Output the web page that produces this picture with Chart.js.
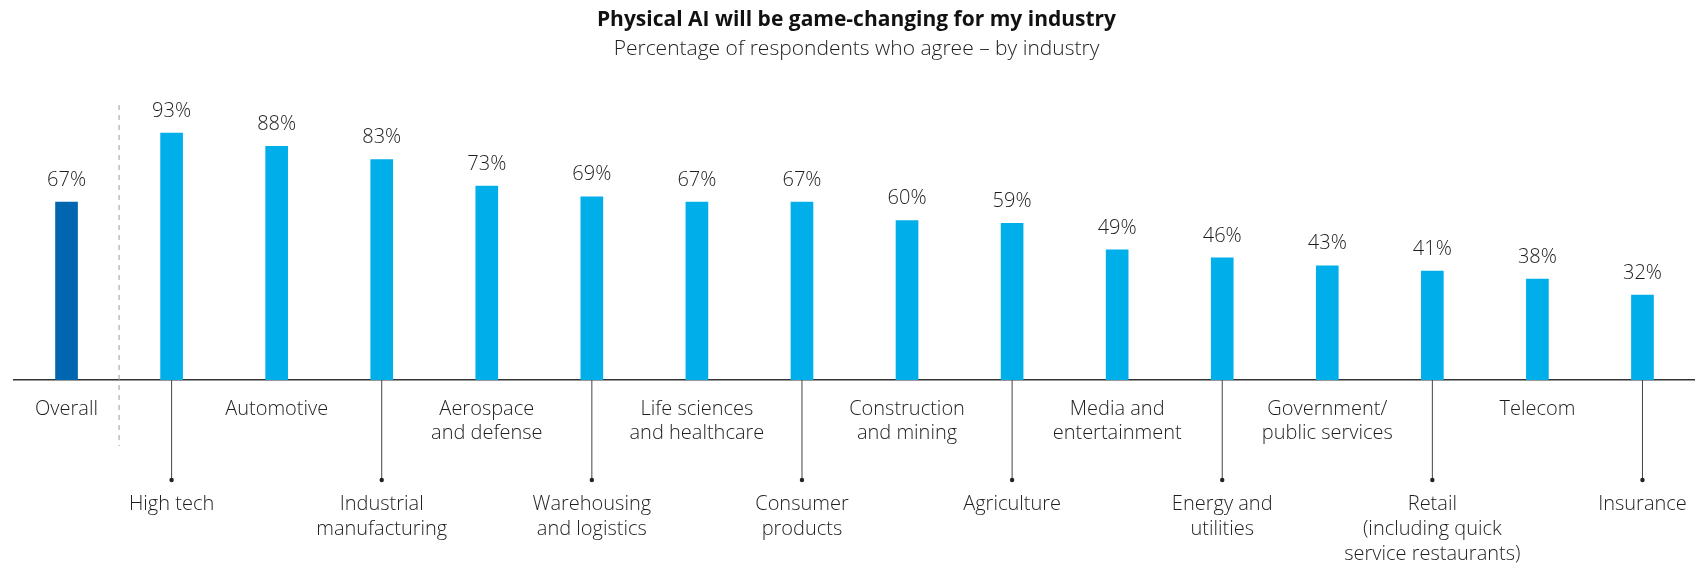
<!DOCTYPE html>
<html>
<head>
<meta charset="utf-8">
<script src="https://cdn.jsdelivr.net/npm/chart.js@4/dist/chart.umd.min.js"></script>
<style>
  html, body { margin: 0; padding: 0; background: #fff; }
  #wrap { width: 1695px; height: 566px; }
</style>
</head>
<body>
<div id="wrap"><canvas id="chart" width="1695" height="566"></canvas></div>
<script>
// data
const categories = [
  "Overall",
  "High tech",
  "Automotive",
  ["Industrial", "manufacturing"],
  ["Aerospace", "and defense"],
  ["Warehousing", "and logistics"],
  ["Life sciences", "and healthcare"],
  ["Consumer", "products"],
  ["Construction", "and mining"],
  "Agriculture",
  ["Media and", "entertainment"],
  ["Energy and", "utilities"],
  ["Government/", "public services"],
  ["Retail", "(including quick", "service restaurants)"],
  "Telecom",
  "Insurance",
];
const values = [67, 93, 88, 83, 73, 69, 67, 67, 60, 59, 49, 46, 43, 41, 38, 32];

const overallColor = "#0066B0";
const industryColor = "#00AEEA";
const textColor = "#1e1e1e";
const fontFamily = "'Open Sans', 'Noto Sans', sans-serif";

// 標籤、數值、引線
const labelPlugin = {
  id: "labelPlugin",
  afterDraw: (chart) => {
    const ctx = chart.ctx;
    const xScale = chart.scales.x;
    const bottom = chart.chartArea.bottom;
    const meta = chart.getDatasetMeta(0);

    ctx.save();
    ctx.textAlign = "center";
    ctx.textBaseline = "middle";
    ctx.fillStyle = textColor;

    // 數值
    ctx.font = `300 20px ${fontFamily}`;
    meta.data.forEach((bar, i) => {
      ctx.fillText(`${values[i]}%`, bar.x, bar.y - 22);
    });

    // 分隔虛線
    const xSep = (xScale.getPixelForValue(0) + xScale.getPixelForValue(1)) / 2;
    ctx.strokeStyle = "#9a9a9a";
    ctx.lineWidth = 1;
    ctx.setLineDash([5, 5]);
    ctx.beginPath();
    ctx.moveTo(xSep, 105);
    ctx.lineTo(xSep, bottom + 66);
    ctx.stroke();
    ctx.setLineDash([]);

    // 類別標籤
    ctx.font = `300 20px ${fontFamily}`;
    categories.forEach((cat, i) => {
      const x = xScale.getPixelForValue(i);
      const lines = Array.isArray(cat) ? cat : [cat];
      let y0 = bottom + 29;
      let lh = 24;
      if (i % 2 === 1) {
        // 引線 + 圓點
        ctx.strokeStyle = "#444";
        ctx.lineWidth = 1;
        ctx.beginPath();
        ctx.moveTo(x, bottom);
        ctx.lineTo(x, bottom + 100);
        ctx.stroke();
        ctx.fillStyle = "#222";
        ctx.beginPath();
        ctx.arc(x, bottom + 100, 2.2, 0, Math.PI * 2);
        ctx.fill();
        y0 = bottom + 124;
        lh = 25;
      }
      ctx.fillStyle = textColor;
      lines.forEach((line, j) => {
        ctx.fillText(line, x, y0 + j * lh);
      });
    });
    ctx.restore();
  },
};

const chart = new Chart(document.getElementById("chart"), {
  type: "bar",
  data: {
    labels: categories,
    datasets: [
      {
        data: values,
        backgroundColor: values.map((v, i) => (i === 0 ? overallColor : industryColor)),
        barThickness: 22,
      },
    ],
  },
  options: {
    responsive: false,
    animation: false,
    layout: {
      padding: { left: 14, right: -4, top: 0, bottom: 178 },
    },
    scales: {
      x: {
        grid: { display: false },
        border: { display: true, color: "#333", width: 1.5 },
        ticks: { display: false },
      },
      y: {
        display: false,
        min: 0,
        max: 100,
      },
    },
    plugins: {
      legend: { display: false },
      tooltip: { enabled: false },
      title: {
        display: true,
        text: "Physical AI will be game-changing for my industry",
        color: "#111",
        font: { family: fontFamily, size: 21, weight: "700" },
        padding: { top: 7, bottom: 4 },
      },
      subtitle: {
        display: true,
        text: "Percentage of respondents who agree – by industry",
        color: textColor,
        font: { family: fontFamily, size: 21, weight: "300" },
        padding: { top: 0, bottom: 53 },
      },
    },
  },
  plugins: [labelPlugin],
});
</script>
</body>
</html>
